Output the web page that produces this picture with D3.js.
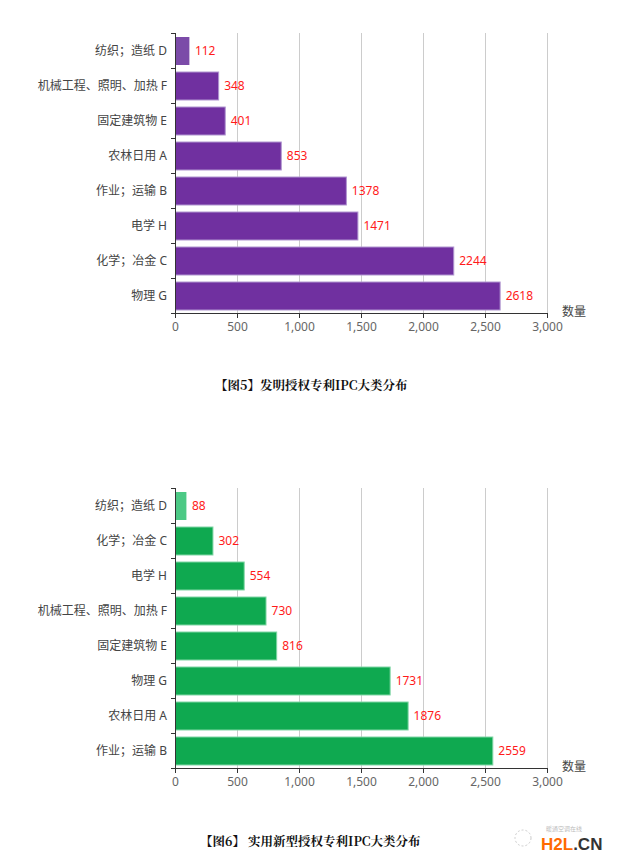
<!DOCTYPE html>
<html><head><meta charset="utf-8">
<script src="https://cdn.jsdelivr.net/npm/d3@7"></script>
<style>
html,body{margin:0;padding:0;background:#fff;}
svg{display:block;}
</style></head>
<body>
<svg id="c" width="622" height="866"></svg>
<script>
const cats1 = ['纺织；造纸 D','机械工程、照明、加热 F','固定建筑物 E','农林日用 A','作业；运输 B','电学 H','化学；冶金 C','物理 G'];
const vals1 = [112,348,401,853,1378,1471,2244,2618];
const cats2 = ['纺织；造纸 D','化学；冶金 C','电学 H','机械工程、照明、加热 F','固定建筑物 E','物理 G','农林日用 A','作业；运输 B'];
const vals2 = [88,302,554,730,816,1731,1876,2559];
const xTicks = [0,500,1000,1500,2000,2500,3000];
const axisName = '数量';
const title1 = '【图5】发明授权专利IPC大类分布';
const title2 = '【图6】 实用新型授权专利IPC大类分布';

const svg = d3.select('#c');
const FONT = '"Noto Sans","Noto Sans CJK SC","Microsoft YaHei",sans-serif';

function drawChart(top, cats, vals, fill, firstFill, stroke) {
  const left = 175, right = 547, bottom = top + 280;
  const x = d3.scaleLinear().domain([0,3000]).range([left,right]);
  const y = d3.scaleBand().domain(cats).range([top,bottom]).paddingInner(0.2).paddingOuter(0.1);
  const g = svg.append('g');
  // grid
  g.selectAll('.grid').data(xTicks.slice(1)).enter().append('line')
    .attr('x1',d=>x(d)+0.5).attr('x2',d=>x(d)+0.5)
    .attr('y1',top).attr('y2',bottom).attr('stroke','#ccc').attr('stroke-width',1);
  // bars
  const data = cats.map((c,i)=>({c,v:vals[i],i}));
  g.selectAll('.bar').data(data).enter().append('rect')
    .attr('x',x(0)+0.5).attr('y',d=>y(d.c)+0.5)
    .attr('width',d=>x(d.v)-x(0)).attr('height',y.bandwidth())
    .attr('fill',d=>d.i===0?firstFill:fill)
    .attr('stroke',d=>d.i===0?'none':stroke).attr('stroke-width',1);
  // value labels
  g.selectAll('.val').data(data).enter().append('text')
    .attr('x',d=>x(d.v)+6).attr('y',d=>y(d.c)+y.bandwidth()/2+1)
    .attr('dominant-baseline','middle')
    .attr('fill','#ff1a1a').attr('font-size',12).attr('font-family',FONT)
    .text(d=>d.v);
  // x axis
  const xa = g.append('g').attr('transform',`translate(0,${bottom})`)
    .call(d3.axisBottom(x).tickValues(xTicks).tickSize(5).tickSizeOuter(0).tickFormat(d3.format(',')));
  xa.select('.domain').attr('stroke','#333');
  xa.selectAll('.tick line').attr('stroke','#333');
  xa.selectAll('text').attr('fill','#666').attr('font-size',12).attr('font-family',FONT).attr('dy','0.85em');
  // y axis: ticks at band boundaries
  const ya = g.append('g').attr('transform',`translate(${left},0)`);
  ya.append('line').attr('x1',0.5).attr('x2',0.5).attr('y1',top).attr('y2',bottom).attr('stroke','#333');
  const bounds = d3.range(cats.length+1).map(i=>top + i*(bottom-top)/cats.length);
  ya.selectAll('.yt').data(bounds).enter().append('line')
    .attr('x1',-4).attr('x2',0.5).attr('y1',d=>Math.round(d)+0.5).attr('y2',d=>Math.round(d)+0.5).attr('stroke','#333');
  ya.selectAll('.yl').data(cats).enter().append('text')
    .attr('x',-8).attr('y',d=>y(d)+y.bandwidth()/2+1)
    .attr('text-anchor','end').attr('dominant-baseline','middle')
    .attr('fill','#444').attr('font-size',12).attr('font-family',FONT).text(d=>d);
  // axis name
  g.append('text').attr('x',562).attr('y',bottom+3).attr('fill','#444')
    .attr('font-size',12).attr('font-family',FONT).text(axisName);
}

drawChart(33, cats1, vals1, '#7030a0', '#7b4ba8', '#b095d0');
drawChart(488, cats2, vals2, '#0fa950', '#4cc985', '#80d6a5');

svg.append('text').attr('x',215).attr('y',390).attr('font-size',12.5).attr('font-weight','bold')
  .attr('font-family','"Noto Serif CJK SC","Noto Sans CJK SC",serif').attr('fill','#111').text(title1);
svg.append('text').attr('x',200).attr('y',846).attr('font-size',12.5).attr('font-weight','bold')
  .attr('font-family','"Noto Serif CJK SC","Noto Sans CJK SC",serif').attr('fill','#111').text(title2);

// watermark
const wm = svg.append('g');
wm.append('circle').attr('cx',523).attr('cy',838).attr('r',8).attr('fill','none').attr('stroke','#ccc').attr('stroke-dasharray','2,2');
wm.append('text').attr('x',546).attr('y',831).attr('font-size',6).attr('fill','#bbb').attr('font-family',FONT).text('暖通空调在线');
const wt = wm.append('text').attr('x',541).attr('y',850).attr('font-size',17).attr('font-weight','bold')
  .attr('font-family','"Liberation Sans",Arial,sans-serif');
wt.append('tspan').attr('fill','#ff6a00').text('H2L');
wt.append('tspan').attr('fill','#333').text('.CN');
</script>
</body></html>
